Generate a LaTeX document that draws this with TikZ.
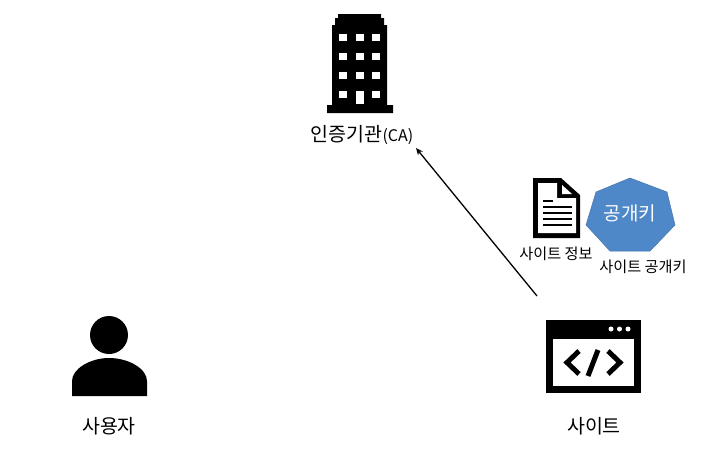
\documentclass[tikz,border=0pt]{standalone}
\usepackage{fontspec}
\setmainfont{Noto Sans CJK KR}
\usetikzlibrary{arrows.meta, positioning}

\definecolor{keyblue}{HTML}{4F88C9}
\definecolor{keyedge}{HTML}{4675A8}

\begin{document}
\begin{tikzpicture}[
    	x=1pt, y=-1pt,
    	biglabel/.style={font=\fontsize{19.5}{22}\selectfont, text=black, inner sep=0pt},
    	smalllabel/.style={font=\fontsize{15.2}{18}\selectfont, text=black, inner sep=0pt},
    	keytext/.style={font=\fontsize{19}{22}\selectfont, text=white, inner sep=0pt},
    	icon/.style={fill=black, draw=none},
    	hole/.style={fill=white, draw=none},
    	code/.style={line width=5pt},
    	arrow/.style={line width=1.3pt,-{Stealth[length=7pt,width=6pt]}}
    	]
    	\useasboundingbox (0,0) rectangle (716,453);
    	
    	% 인증기관 건물
    	\fill [icon] (338,14) -- (381,14) -- (381,18) -- (384,18) -- (384,25) -- (387,25) -- (387,105) -- (393,105) -- (393,113) -- (327,113) -- (327,105) -- (332,105) -- (332,25) -- (335,25) -- (335,18) -- (338,18) -- cycle;
    	\foreach \wx in {339,356,372} {
    		\foreach \wy in {34,53,72} {
    			\fill [hole] (\wx,\wy) rectangle +(7.5,6.5);
    		}
    	}
    	\fill [hole] (339,91) rectangle +(7.5,6.5);
    	\fill [hole] (356,91) rectangle +(7.5,13);
    	\fill [hole] (372,91) rectangle +(7.5,6.5);
    	\node (ca) [biglabel] at (362,135.5) {인증기관{\fontsize{16}{18}\selectfont(CA)}};
    	
    	% 사용자
    	\fill [icon] (109,335) circle (19);
    	\fill [icon] (72,396) -- (72,381) .. controls (72,369) and (90,358) .. (109,358) .. controls (129,358) and (147,369) .. (147,381) -- (147,396) -- cycle;
    	\node (user) [biglabel] at (109,426.5) {사용자};
    	
    	% 사이트 창
    	\fill [icon] (546,320) rectangle (641,393);
    	\fill [hole] (553,339) rectangle (634,386);
    	\foreach \dx in {611,619.5,628} {
    		\fill [hole] (\dx,329) circle (2.5);
    	}
    	\draw [code] (579,351) -- (567,362.5) -- (579,374);
    	\draw [code] (608,351) -- (620,362.5) -- (608,374);
    	\draw [code] (598,350) -- (588,376);
    	\node (site) [biglabel] at (594,426.5) {사이트};
    	
    	% 사이트 정보 문서
    	\fill [icon] (533,178) -- (561,178) -- (580,195) -- (580,238) -- (533,238) -- cycle;
    	\fill [hole] (538,183) -- (557,183) -- (557,198) -- (576,198) -- (576,233) -- (538,233) -- cycle;
    	\fill [hole] (562,185) -- (572,194) -- (562,194) -- cycle;
    	\fill [icon] (543,200) rectangle (553,202);
    	\foreach \ly in {206,212,218,224} {
    		\fill [icon] (543,\ly) rectangle (572,\ly+2);
    	}
    	\node (info) [smalllabel] at (556,254) {사이트 정보};
    	
    	% 공개키
    	\filldraw [fill=keyblue, draw=keyedge, line width=0.5pt] (630,178) -- (667,192) -- (675,225) -- (650,251) -- (610,251) -- (586,225) -- (596,192) -- cycle;
    	\node (key) [keytext] at (630,213) {공개키};
    	\node (keylabel) [smalllabel] at (643,267) {사이트 공개키};
    	
    	% 연결선
    	\coordinate (from) at (537,296);
    	\coordinate (to) at (416,148);
    	\draw [arrow] (from) -- (to);
    	
    \end{tikzpicture}
\end{document}
